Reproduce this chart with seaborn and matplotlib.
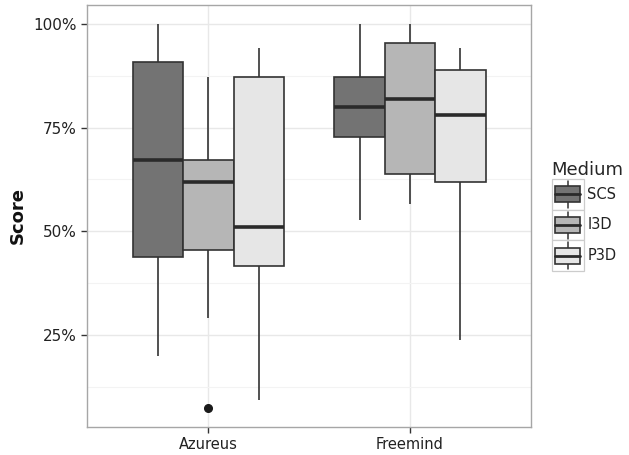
import numpy as np
import pandas as pd
import matplotlib
matplotlib.use("Agg")
import matplotlib.pyplot as plt
import seaborn as sns
from matplotlib.ticker import PercentFormatter, FixedLocator
from matplotlib.legend_handler import HandlerBase
from matplotlib.patches import Rectangle
from matplotlib.lines import Line2D

# ---- data (scores) ----
projects = ["Azureus", "Freemind"]
media = ["SCS", "I3D", "P3D"]
fills = ["#737373", "#b6b6b6", "#e6e6e6"]

azureus_scs = [0.199, 0.437, 0.673, 0.909, 1.000]
azureus_i3d = [0.072, 0.291, 0.454, 0.520, 0.618, 0.640, 0.672, 0.800, 0.871]
azureus_p3d = [0.092, 0.417, 0.509, 0.873, 0.943]
freemind_scs = [0.528, 0.728, 0.800, 0.873, 1.000]
freemind_i3d = [0.565, 0.637, 0.820, 0.955, 1.000]
freemind_p3d = [0.237, 0.618, 0.781, 0.890, 0.943]

y_ticks = [0.25, 0.50, 0.75, 1.00]
y_minor = [0.125, 0.375, 0.625, 0.875]

groups = {
    ("Azureus", "SCS"): azureus_scs,
    ("Azureus", "I3D"): azureus_i3d,
    ("Azureus", "P3D"): azureus_p3d,
    ("Freemind", "SCS"): freemind_scs,
    ("Freemind", "I3D"): freemind_i3d,
    ("Freemind", "P3D"): freemind_p3d,
}
rows = []
for (proj, med), vals in groups.items():
    for v in vals:
        rows.append({"Project": proj, "Medium": med, "Score": v})
df = pd.DataFrame(rows)

sns.set_style("white")
plt.rcParams["font.family"] = ["DejaVu Sans"]

fig = plt.figure(figsize=(6.29, 4.55), dpi=100)
ax = fig.add_axes([0.1388, 0.0622, 0.8442 - 0.1388, 0.989 - 0.0622])

ax.set_axisbelow(True)
sns.boxplot(
    data=df, x="Project", y="Score", hue="Medium",
    order=projects, hue_order=media, palette=fills,
    width=0.75, gap=0, saturation=1, dodge=True,
    linecolor="#333333", linewidth=1.2, showcaps=False,
    fliersize=5.5,
    flierprops=dict(marker="o", markerfacecolor="#1a1a1a", markeredgecolor="#1a1a1a"),
    medianprops=dict(linewidth=2.6, color="#2a2a2a"),
    legend=False, ax=ax,
)

ax.set_xlim(-0.6, 1.6)
ax.set_ylim(0.028, 1.046)
ax.yaxis.set_major_locator(FixedLocator(y_ticks))
ax.yaxis.set_minor_locator(FixedLocator(y_minor))
ax.yaxis.set_major_formatter(PercentFormatter(xmax=1, decimals=0))

ax.grid(True, which="major", color="#e8e8e8", linewidth=1.0)
ax.grid(True, which="minor", axis="y", color="#f3f3f3", linewidth=0.8)

for s in ax.spines.values():
    s.set_visible(True)
    s.set_color("#a6a6a6")
    s.set_linewidth(1.0)

ax.tick_params(axis="both", which="major", length=4.5, width=1.0, color="#333333",
               labelsize=10.5, labelcolor="#222222", direction="out",
               left=True, bottom=True)
ax.tick_params(axis="y", labelsize=11)
ax.tick_params(axis="y", which="minor", length=0)
ax.tick_params(axis="y", pad=3)
ax.tick_params(axis="x", pad=3)

ax.set_xlabel("")
ax.set_ylabel("Score", fontsize=13, fontweight="bold", labelpad=5, color="#111111")


class BoxKey(HandlerBase):
    def create_artists(self, legend, orig_handle, xdescent, ydescent,
                       width, height, fontsize, trans):
        x0, y0 = -xdescent, -ydescent
        fc = orig_handle.get_facecolor()
        bg = Rectangle((x0, y0), width, height, facecolor="white",
                       edgecolor="#cccccc", lw=0.9, transform=trans)
        cx = x0 + width / 2
        wl = Line2D([cx, cx], [y0 + 0.06 * height, y0 + 0.94 * height],
                    color="#333333", lw=1.1, transform=trans)
        box = Rectangle((x0 + 0.12 * width, y0 + 0.24 * height), 0.76 * width,
                        0.52 * height, facecolor=fc, edgecolor="#333333",
                        lw=1.2, transform=trans)
        med = Line2D([x0 + 0.12 * width, x0 + 0.88 * width],
                     [y0 + height / 2] * 2, color="#2a2a2a", lw=2.0,
                     transform=trans)
        return [bg, wl, box, med]


handles = [Rectangle((0, 0), 1, 1, facecolor=c) for c in fills]
leg = fig.legend(handles, media, title="Medium", loc="center left",
                 bbox_to_anchor=(0.877, 0.525), frameon=False,
                 handler_map={Rectangle: BoxKey()},
                 handlelength=2.2, handleheight=2.86, labelspacing=0,
                 handletextpad=0.25, fontsize=10.5, title_fontsize=13,
                 borderpad=0, borderaxespad=0, alignment="left")
for t in leg.get_texts():
    t.set_color("#222222")

fig.savefig("out.png", dpi=100)
